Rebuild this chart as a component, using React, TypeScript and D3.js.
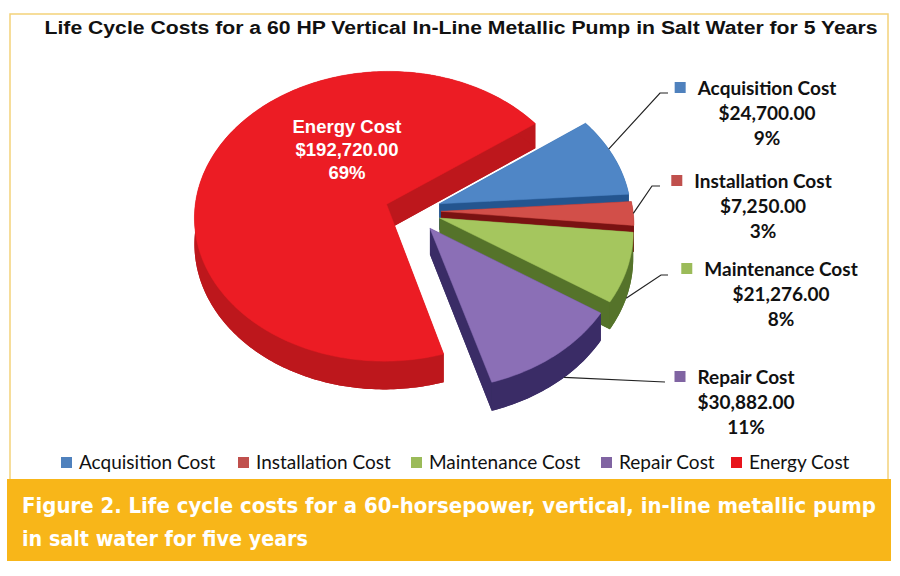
import React, { useEffect, useRef } from "react";
import * as d3 from "d3";

// chart data
const categories = ["Acquisition Cost", "Installation Cost", "Maintenance Cost", "Repair Cost", "Energy Cost"];
const costs = [24700, 7250, 21276, 30882, 192720];
const costLabels = ["$24,700.00", "$7,250.00", "$21,276.00", "$30,882.00", "$192,720.00"];
const percentLabels = ["9%", "3%", "8%", "11%", "69%"];

const chartTitle = "Life Cycle Costs for a 60 HP Vertical In-Line Metallic Pump in Salt Water for 5 Years";
const captionLines = [
  "Figure 2. Life cycle costs for a 60-horsepower, vertical, in-line metallic pump",
  "in salt water for five years",
];

// palette (top face, side walls, legend key)
const topColors = ["#4f86c6", "#d24f49", "#a5c65e", "#8b6fb6", "#ec1c24"];
const sideColors = ["#24558f", "#7a1212", "#55732a", "#3a2c66", "#bd171c"];
const keyColors = ["#4f81bd", "#c0504d", "#9bbb59", "#8064a2", "#e8141c"];

// outside labels: centre x, first baseline, leader elbow, where the leader touches the slice
const labelLayout = [
  { x: 767, y: 95, elbow: [660, 93], end: [668, 93], frac: 0.4, dz: 0 },
  { x: 763, y: 188, elbow: [652, 186], end: [660, 186], frac: 0.5, dz: 0 },
  { x: 781, y: 276, elbow: [661, 275], end: [668, 275], frac: 0.55, dz: 1 },
  { x: 746, y: 384, elbow: [665, 382], end: [665, 382], frac: 0.42, dz: 1 },
];
// legend key x positions
const legendX = [61, 238, 411, 601, 731];

const W = 900;
const H = 576;

export default function App() {
  const ref = useRef<SVGSVGElement>(null);

  useEffect(() => {
    if (!ref.current) return;
    const svg = d3.select(ref.current);
    svg.selectAll("*").remove();

    // 1) FRAME
    svg.append("rect").attr("width", W).attr("height", H).attr("fill", "#ffffff");
    svg.append("rect")
      .attr("x", 10).attr("y", 14).attr("width", 878).attr("height", 470)
      .attr("fill", "none").attr("stroke", "#f3d27a").attr("stroke-width", 1.5);

    svg.append("text")
      .attr("x", 461).attr("y", 34)
      .attr("text-anchor", "middle")
      .attr("font-family", "'Liberation Sans', Arial, sans-serif")
      .attr("font-weight", "bold").attr("font-size", 17.5)
      .attr("textLength", 833).attr("lengthAdjust", "spacingAndGlyphs")
      .attr("fill", "#111")
      .text(chartTitle);

    // 2) 3D PIE GEOMETRY (unit disc seen in perspective)
    const cx = 413, cy = 211, R = 192, RY = 145, D = 12, depth = 26, explode = 0.146;
    const project = (u: number, v: number, dz: number): [number, number] => {
      const s = D / (D - v);
      return [cx + R * u * s, cy + (RY * v + dz) * s];
    };

    const start = (54 * Math.PI) / 180;
    const arcs = d3.pie<number>().sort(null).startAngle(start).endAngle(start + 2 * Math.PI)(costs);
    const line = d3.line();

    const slices = arcs.map((a, i) => {
      const ts = a.startAngle - Math.PI / 2;
      const te = a.endAngle - Math.PI / 2;
      const tm = (ts + te) / 2;
      const ou = explode * Math.cos(tm);
      const ov = explode * Math.sin(tm);
      const n = Math.max(8, Math.ceil(((te - ts) * 180) / Math.PI));
      const at = (t: number, dz: number) => project(ou + Math.cos(t), ov + Math.sin(t), dz);
      const rim = (dz: number) => d3.range(n + 1).map((k) => at(ts + ((te - ts) * k) / n, dz));
      const hub = (dz: number) => project(ou, ov, dz);
      return { i, ts, te, tm, at, rim, hub };
    });

    const g = svg.append("g");
    [...slices].sort((a, b) => Math.sin(a.tm) - Math.sin(b.tm)).forEach((s) => {
      const top = s.rim(0);
      const bottom = s.rim(depth);
      const c0 = s.hub(0);
      const c1 = s.hub(depth);
      const side = sideColors[s.i];

      g.append("path").attr("d", line([c1, ...bottom]) + "Z").attr("fill", side);
      [top[0], top[top.length - 1]].forEach((p, k) => {
        const q = k === 0 ? bottom[0] : bottom[bottom.length - 1];
        g.append("path").attr("d", line([c0, p, q, c1]) + "Z").attr("fill", side);
      });
      g.append("path")
        .attr("d", line([...top, ...bottom.slice().reverse()]) + "Z")
        .attr("fill", side);
      g.append("path")
        .attr("d", line([c0, ...top]) + "Z")
        .attr("fill", topColors[s.i])
        .attr("stroke", topColors[s.i]).attr("stroke-width", 0.5);
    });

    // 3) ENERGY LABEL (inside the big slice)
    const inside = svg.append("text")
      .attr("text-anchor", "middle")
      .attr("font-family", "'Liberation Sans', Arial, sans-serif")
      .attr("font-weight", "bold").attr("font-size", 18.5)
      .attr("fill", "#ffffff");
    [categories[4], costLabels[4], percentLabels[4]].forEach((t, k) => {
      inside.append("tspan").attr("x", 347).attr("y", 133 + k * 23).text(t);
    });

    // 4) OUTSIDE LABELS WITH LEADERS
    labelLayout.forEach((L, i) => {
      const s = slices[i];
      const p = s.at(s.ts + (s.te - s.ts) * L.frac, L.dz * depth);
      svg.append("path")
        .attr("d", line([p, L.elbow as [number, number], L.end as [number, number]]))
        .attr("fill", "none").attr("stroke", "#222").attr("stroke-width", 1.2);

      const txt = svg.append("text")
        .attr("text-anchor", "middle")
        .attr("font-family", "Lato, 'Open Sans', sans-serif")
        .attr("font-weight", "bold").attr("font-size", 19)
        .attr("fill", "#111");
      const lines = [categories[i], costLabels[i], percentLabels[i]];
      lines.forEach((t, k) => {
        txt.append("tspan").attr("x", L.x).attr("y", L.y + k * 25).text(t);
      });
      const first = txt.select<SVGTSpanElement>("tspan").node();
      const len = first ? first.getComputedTextLength() : 120;
      svg.append("rect")
        .attr("x", L.x - len / 2 - 23).attr("y", L.y - 13)
        .attr("width", 11).attr("height", 11)
        .attr("fill", keyColors[i]);
    });

    // 5) LEGEND
    const legend = svg.append("g");
    categories.forEach((c, i) => {
      const lx = legendX[i];
      legend.append("rect")
        .attr("x", lx).attr("y", 457).attr("width", 11).attr("height", 11)
        .attr("fill", keyColors[i]);
      legend.append("text")
        .attr("x", lx + 18).attr("y", 469)
        .attr("font-family", "Lato, 'Open Sans', sans-serif")
        .attr("font-size", 19).attr("fill", "#111")
        .text(c);
    });

    // 6) CAPTION BOX
    svg.append("rect")
      .attr("x", 7).attr("y", 479).attr("width", 884).attr("height", 82)
      .attr("fill", "#f8b619");
    captionLines.forEach((t, k) => {
      svg.append("text")
        .attr("x", 22).attr("y", 513 + k * 33)
        .attr("font-family", "'Liberation Sans Narrow', 'DejaVu Sans Condensed', 'Liberation Sans', sans-serif")
        .attr("font-weight", "bold").attr("font-size", 22)
        .attr("textLength", k === 0 ? 854 : 286).attr("lengthAdjust", "spacingAndGlyphs")
        .attr("fill", "#ffffff")
        .text(t);
    });
  }, []);

  return (
    <svg
      ref={ref}
      width={W}
      height={H}
      style={{ position: "absolute", left: 0, top: 0, display: "block" }}
    />
  );
}
